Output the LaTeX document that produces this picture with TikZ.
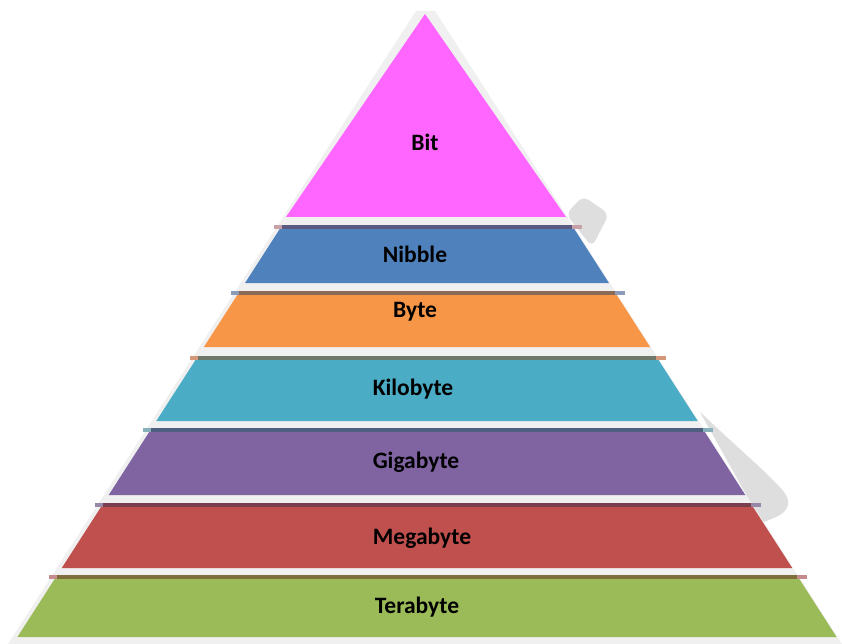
\documentclass[tikz,border=0pt]{standalone}
\usepackage{fontspec}
\setmainfont{Carlito}
\begin{document}
\begin{tikzpicture}[x=1pt,y=-1pt,
  lbl/.style={font=\bfseries\fontsize{23.5}{26}\selectfont, text=black, inner sep=0pt}]
\definecolor{edgegrey}{HTML}{F0F0F0}
\definecolor{shadowgrey}{HTML}{DEDEDE}
\definecolor{cpink}{HTML}{FF66FF}
\definecolor{cblue}{HTML}{4F81BD}
\definecolor{corange}{HTML}{F79646}
\definecolor{cteal}{HTML}{4BACC6}
\definecolor{cpurple}{HTML}{8064A2}
\definecolor{cred}{HTML}{C0504D}
\definecolor{cgreen}{HTML}{9BBB59}
% strip colours: middle / ends
\definecolor{mNib}{HTML}{5B5A80}\definecolor{eNib}{HTML}{C8A0A8}
\definecolor{mByt}{HTML}{8A6A55}\definecolor{eByt}{HTML}{8C9CB8}
\definecolor{mKil}{HTML}{6F7868}\definecolor{eKil}{HTML}{D49878}
\definecolor{mGig}{HTML}{4E5F80}\definecolor{eGig}{HTML}{88B0BA}
\definecolor{mMeg}{HTML}{7A3F4F}\definecolor{eMeg}{HTML}{9888A8}
\definecolor{mTer}{HTML}{7F6E3A}\definecolor{eTer}{HTML}{C48C8C}
\useasboundingbox[fill=white] (0,0) rectangle (842,644);
\newcommand\pyrband[5]{%
  \pgfmathsetmacro\xlt{427-0.643*#1}%
  \pgfmathsetmacro\xrt{427+0.643*#1}%
  \pgfmathsetmacro\xlb{427-0.643*#2}%
  \pgfmathsetmacro\xrb{427+0.643*#2}%
  \pgfmathsetmacro\stt{#1-4}%
  \fill[#5] (\xlt-6,\stt) rectangle (\xrt+8,#1);
  \fill[#4] (\xlt+2,\stt) rectangle (\xrt-2,#1);
  \fill[#3] (\xlt,#1) -- (\xrt,#1) -- (\xrb,#2) -- (\xlb,#2) -- cycle;
}
% grey curl shadows on the right
\fill[shadowgrey, rounded corners=7] (566,214) -- (583,196) -- (609,214) -- (592,247) -- cycle;
\fill[shadowgrey] (700,412) .. controls (740,450) and (770,475) .. (784,492)
  .. controls (792,502) and (788,512) .. (776,517) -- (762,523) -- cycle;
% outer light grey triangle
\fill[edgegrey] (416,11) -- (435,11) -- (842,644) -- (8,644) -- cycle;
% top triangle
\fill[cpink] (425,14) -- (566,217) -- (286,217) -- cycle;
\node[lbl] (bit) at (425,142) {Bit};
% bands
\pyrband{229}{283}{cblue}{mNib}{eNib}
\node[lbl] (nibble) at (415,254) {Nibble};
\pyrband{295}{347}{corange}{mByt}{eByt}
\node[lbl] (byte) at (415,312) {Byte};
\pyrband{360}{421}{cteal}{mKil}{eKil}
\node[lbl] (kilobyte) at (413,389) {Kilobyte};
\pyrband{432}{495}{cpurple}{mGig}{eGig}
\node[lbl] (gigabyte) at (416,462) {Gigabyte};
\pyrband{507}{568}{cred}{mMeg}{eMeg}
\node[lbl] (megabyte) at (422,538) {Megabyte};
\pyrband{579}{637}{cgreen}{mTer}{eTer}
\node[lbl] (terabyte) at (417,607) {Terabyte};
\end{tikzpicture}
\end{document}
